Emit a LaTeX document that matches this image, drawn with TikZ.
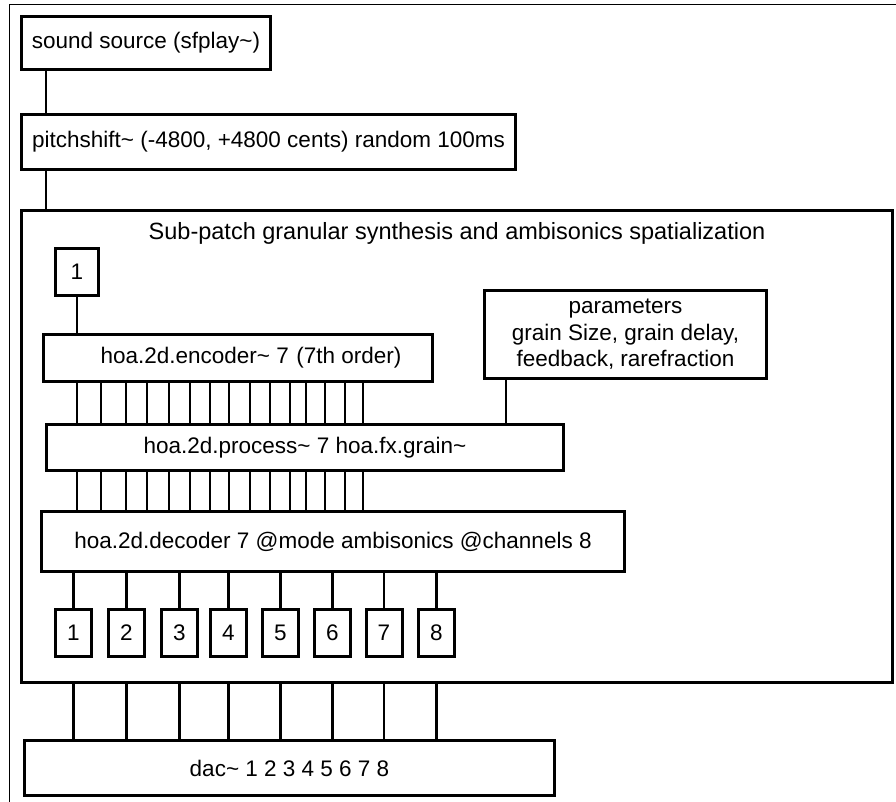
\documentclass[tikz,border=0pt]{standalone}
\usepackage{fontspec}
\setmainfont{Liberation Sans}
\usetikzlibrary{positioning, calc}

\begin{document}
\begin{tikzpicture}[x=1pt, y=-1pt,
    obj/.style={draw, line width=3pt, inner sep=0pt, align=center,
      font=\fontsize{22.5}{26.5}\selectfont},
    wire/.style={line width=2.2pt}]
  \useasboundingbox (0,0) rectangle (896,802);
  \draw[line width=1pt] (9,802) -- (9,5) -- (896,5);

  \node[obj, minimum width=249pt, minimum height=53pt] (src) at (146,43) {sound source (sfplay\textasciitilde)};
  \node[obj, minimum width=494pt, minimum height=55pt] (pitch) at (268.5,142) {pitchshift\textasciitilde{} (-4800, +4800 cents) random 100ms};
  \node[obj, minimum width=871pt, minimum height=472pt] (sub) at (457,446.5) {};
  \node[font=\fontsize{23.5}{27}\selectfont] (title) at (457,233) {Sub-patch granular synthesis and ambisonics spatialization};

  \node[obj, minimum width=43pt, minimum height=47pt] (in1) at (77,272) {1};
  \node[obj, minimum width=389pt, minimum height=47pt] (enc) at (238,358) {\hspace*{26pt}hoa.2d.encoder\textasciitilde{} 7\,\,(7th order)};
  \node[obj, minimum width=282pt, minimum height=88pt] (par) at (625.5,334.5) {parameters\\grain Size, grain delay,\\feedback, rarefraction};
  \node[obj, minimum width=517pt, minimum height=46pt] (proc) at (305,447.5) {hoa.2d.process\textasciitilde{} 7 hoa.fx.grain\textasciitilde};
  \node[obj, minimum width=583pt, minimum height=60pt] (dec) at (333,541.5) {hoa.2d.decoder 7 @mode ambisonics @channels 8};
  \node[obj, minimum width=530pt, minimum height=55pt] (dac) at (289.5,768) {dac\textasciitilde{} 1 2 3 4 5 6 7 8};

  \foreach \n/\x in {1/73.5, 2/126.5, 3/179.5, 4/228.5, 5/280.5, 6/332.5, 7/384, 8/436.5}
    \node[obj, minimum width=36pt, minimum height=47pt] (out\n) at (\x,633) {\n};

  \coordinate (c1) at (46,0);
  \coordinate (c2) at (506,0);
  \draw[wire] (src.south -| c1) -- (pitch.north -| c1);
  \draw[wire] (pitch.south -| c1) -- (sub.north -| c1);
  \draw[wire] (in1.south) -- (in1.south |- enc.north);
  \draw[wire] (par.south -| c2) -- (proc.north -| c2);

  \foreach \x in {77,101,126,147,169,190,210,229,250,270,290,306,325,345,363} {
    \coordinate (ch) at (\x,0);
    \draw[wire] (enc.south -| ch) -- (proc.north -| ch);
    \draw[wire] (proc.south -| ch) -- (dec.north -| ch);
  }

  \foreach \n in {1,...,8} {
    \draw[wire] (out\n.north) -- (out\n.north |- dec.south);
    \draw[wire] (out\n.south |- sub.south) -- (out\n.south |- dac.north);
  }
\end{tikzpicture}
\end{document}
